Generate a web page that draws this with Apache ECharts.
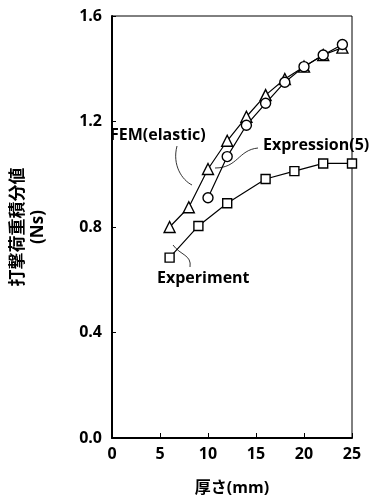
<!DOCTYPE html>
<html><head><meta charset="utf-8">
<script src="https://cdn.jsdelivr.net/npm/echarts@6/dist/echarts.min.js"></script>
<style>html,body{margin:0;padding:0;background:#fff}#c{width:375px;height:504px}</style>
</head><body><div id="c"></div>
<script>
const femX = [6, 8, 10, 12, 14, 16, 18, 20, 22, 24];
const femY = [0.80, 0.875, 1.02, 1.127, 1.218, 1.30, 1.361, 1.408, 1.452, 1.48];
const exprX = [10, 12, 14, 16, 18, 20, 22, 24];
const exprY = [0.911, 1.067, 1.186, 1.269, 1.349, 1.408, 1.452, 1.492];
const expX = [6, 9, 12, 16, 19, 22, 25];
const expY = [0.684, 0.804, 0.890, 0.982, 1.012, 1.041, 1.041];
const xTicks = [0, 5, 10, 15, 20, 25];
const yTicks = [0.0, 0.4, 0.8, 1.2, 1.6];
const labels = ['FEM(elastic)', 'Expression(5)', 'Experiment'];

const pair = (xs, ys) => xs.map((x, i) => [x, ys[i]]);
const FONT = '"Open Sans", "Noto Sans CJK JP", sans-serif';
const chart = echarts.init(document.getElementById('c'), null, {renderer: 'canvas'});
const lineSeries = (name, data, symbol, size) => ({
  name, type: 'line', data, symbol, symbolSize: size, showAllSymbol: true,
  lineStyle: {color: '#000', width: 1.2},
  itemStyle: {color: '#fff', borderColor: '#000', borderWidth: 1.4},
  z: 3
});
const ann = (t, x, y) => ({type: 'text', x, y,
  style: {text: t, font: 'bold 16px ' + FONT, fill: '#000', verticalAlign: 'middle', align: 'left'}});
const curve = (x1, y1, cpx1, cpy1, cpx2, cpy2, x2, y2) => ({type: 'bezierCurve',
  shape: {x1, y1, cpx1, cpy1, cpx2, cpy2, x2, y2}, style: {stroke: '#000', lineWidth: 0.8, fill: null}});
chart.setOption({
  animation: false,
  backgroundColor: '#fff',
  grid: {left: 98, right: 23, top: 16, bottom: 66, show: true, borderColor: '#000', borderWidth: 1},
  xAxis: {
    type: 'value', min: xTicks[0], max: xTicks[xTicks.length - 1], interval: 5,
    name: '厚さ(mm)', nameLocation: 'middle', nameGap: 42,
    nameTextStyle: {fontFamily: FONT, fontSize: 16, fontWeight: 'bold', color: '#000'},
    axisLine: {lineStyle: {color: '#000', width: 2}},
    axisTick: {inside: true, length: 5, lineStyle: {color: '#000', width: 1}},
    axisLabel: {margin: 8, fontFamily: FONT, fontSize: 16, fontWeight: 'bold', color: '#000'},
    splitLine: {show: false}
  },
  yAxis: {
    type: 'value', min: yTicks[0], max: yTicks[yTicks.length - 1], interval: 0.4,
    name: '打撃荷重積分値\n(Ns)', nameLocation: 'middle', nameGap: 64, nameRotate: 90,
    nameTextStyle: {fontFamily: FONT, fontSize: 17, fontWeight: 'bold', color: '#000', lineHeight: 20},
    axisLine: {lineStyle: {color: '#000', width: 2}},
    axisTick: {inside: true, length: 4, lineStyle: {color: '#000', width: 1}},
    axisLabel: {margin: 10, fontFamily: FONT, fontSize: 16, fontWeight: 'bold', color: '#000',
      formatter: v => v.toFixed(1)},
    splitLine: {show: false}
  },
  series: [
    lineSeries(labels[0], pair(femX, femY), 'triangle', 11),
    lineSeries(labels[1], pair(exprX, exprY), 'circle', 10),
    lineSeries(labels[2], pair(expX, expY), 'rect', 9)
  ],
  graphic: [
    ann(labels[0], 110, 135),
    ann(labels[1], 263, 145),
    ann(labels[2], 157, 278),
    curve(177, 146, 172, 165, 182, 180, 192, 185),
    curve(258, 148, 238, 150, 238, 168, 215, 168),
    curve(173, 245, 180, 255, 192, 255, 190, 267)
  ]
});
</script></body></html>
